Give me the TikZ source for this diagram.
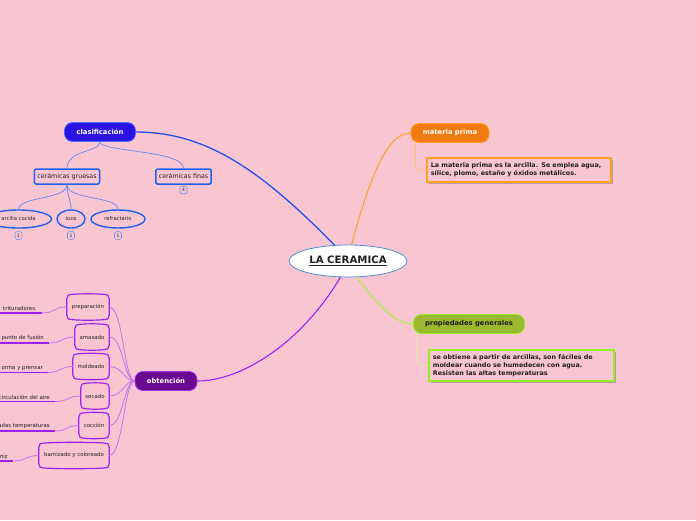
\documentclass[tikz,border=0pt]{standalone}
\usepackage{fontspec}
\setmainfont{DejaVu Sans}
\usetikzlibrary{shapes.geometric,calc}
\definecolor{bg}{HTML}{F9C5D1}
\definecolor{rootb}{HTML}{4A8FD0}
\definecolor{clasf}{HTML}{2A12E0}
\definecolor{clasb}{HTML}{4A6AF8}
\definecolor{blueline}{HTML}{2050F0}
\definecolor{subb}{HTML}{2060F0}
\definecolor{thinblue}{HTML}{7090F0}
\definecolor{orf}{HTML}{F07A10}
\definecolor{orb}{HTML}{FFA020}
\definecolor{orline}{HTML}{FFA030}
\definecolor{orthin}{HTML}{FFC070}
\definecolor{grf}{HTML}{9CB82E}
\definecolor{grb}{HTML}{90F020}
\definecolor{grline}{HTML}{A8F040}
\definecolor{grthin}{HTML}{D8F0A0}
\definecolor{puf}{HTML}{6A0A8E}
\definecolor{pub}{HTML}{A030E8}
\definecolor{puline}{HTML}{A020F0}
\definecolor{puthin}{HTML}{C470F0}
\definecolor{txt}{HTML}{202020}
\definecolor{shadowc}{HTML}{B89AA4}
\tikzset{
  maintopic/.style={rounded corners=8pt, minimum height=19pt, inner sep=0pt, line width=0.8pt, font=\fontsize{6.8}{8}\selectfont\bfseries, text=white},
  subbox/.style={draw=subb, line width=1.5pt, rounded corners=1.5pt, fill=bg, minimum height=15pt, inner xsep=3pt, inner ysep=0pt, font=\fontsize{6.3}{7.5}\selectfont, text=txt},
  leafell/.style={ellipse, draw=subb, line width=1.4pt, fill=bg, minimum height=18pt, inner sep=0pt, font=\fontsize{5.2}{6}\selectfont, text=txt},
  badge/.style={draw=thinblue, line width=0.6pt, rounded corners=1.5pt, minimum width=7pt, minimum height=7.5pt, inner sep=0pt, font=\fontsize{4.5}{5}\selectfont, text=txt},
  thinb/.style={draw=thinblue, line width=0.8pt},
  notebox/.style={line width=1.8pt, fill=bg, inner xsep=4pt, inner ysep=3pt, align=left, anchor=north west, font=\fontsize{6.4}{8}\selectfont\bfseries, text=txt},
  tapebox/.style={minimum height=20pt, inner sep=0pt, font=\fontsize{5.4}{6.5}\selectfont, text=txt},
  tapeline/.style={draw=puline, line width=1.2pt, fill=bg},
  leaftxt/.style={anchor=south east, inner xsep=5pt, inner ysep=2pt, font=\fontsize{5.4}{6.5}\selectfont, text=txt},
  ulpu/.style={draw=puline, line width=1.4pt},
  puconn/.style={draw=puthin, line width=0.8pt},
}
\newcommand\tapeshape[1]{%
  \draw[tapeline, rounded corners=2pt] (#1.north west) .. controls ($(#1.north west)+(3,-3.5)$) and ($(#1.north east)+(-3,-3.5)$) .. (#1.north east) -- (#1.south east) .. controls ($(#1.south east)+(-3,3.5)$) and ($(#1.south west)+(3,3.5)$) .. (#1.south west) -- cycle;}
\begin{document}
\begin{tikzpicture}[x=1pt,y=-1pt]
\fill[bg] (0,0) rectangle (696,520);
\useasboundingbox (0,0) rectangle (696,520);

% root
\node[ellipse, draw=rootb, fill=white, line width=0.8pt, minimum width=118pt, minimum height=32pt, inner sep=0pt, font=\fontsize{10.2}{12}\selectfont\bfseries, text=txt] (root) at (348,261) {\underline{LA CERAMICA}};

% main topics
\node[maintopic, fill=clasf, draw=clasb, minimum width=71pt] (clas) at (100,132) {clasificación};
\node[maintopic, fill=orf, draw=orb, minimum width=78pt] (mp) at (450,133) {materia prima};
\node[maintopic, fill=grf, draw=grb, minimum width=111pt, text=txt] (prop) at (469,324) {propiedades generales};
\node[maintopic, fill=puf, draw=pub, minimum width=62pt] (obt) at (166,381) {obtención};

% main connectors
\draw[blueline, line width=1.3pt] (root.130) .. controls (265,175) and (210,132) .. (clas.east);
\draw[orline, line width=1.1pt] (root.78) .. controls (368,185) and (385,133) .. (mp.west);
\draw[grline, line width=1.1pt] (root.-62) .. controls (378,305) and (395,324) .. (prop.west);
\draw[puline, line width=1.1pt] (root.-115) .. controls (300,345) and (240,381) .. (obt.east);

% clasificacion subtree
\node[subbox] (grue) at (67,176.5) {cerámicas gruesas};
\node[subbox] (fin) at (183.5,176.5) {cerámicas finas};
\node[badge] (b4) at (183.5,190) {4};
\draw[thinb] (clas.south) .. controls (100,152) and (67,150) .. (grue.north);
\draw[thinb] (clas.south) .. controls (100,152) and (183,150) .. (fin.north);

\node[leafell, minimum width=66pt] (arc) at (18.5,219) {arcilla cocida};
\node[leafell, minimum width=28pt] (loza) at (71,219) {loza};
\node[leafell, minimum width=54pt] (refr) at (118,219) {refractario};
\node[badge] (b1) at (18.5,235.5) {1};
\node[badge] (b2) at (71,235.5) {1};
\node[badge] (b3) at (118,235.5) {1};
\draw[thinb] (grue.south) .. controls (67,200) and (19,196) .. (arc.north);
\draw[thinb] (grue.south) .. controls (67,195) and (71,200) .. (loza.north);
\draw[thinb] (grue.south) .. controls (67,200) and (118,196) .. (refr.north);

% materia prima note
\fill[shadowc] (428.5,160) rectangle (612.5,183.5);
\node[notebox, draw=orb, text width=176pt, minimum height=24pt] (mpn) at (426,157) {La materia prima es la arcilla. Se emplea agua,\\sílice, plomo, estaño y óxidos metálicos.};
\draw[orthin, line width=0.8pt, rounded corners=5pt] ($(mp.south west)+(4.5,0)$) |- (mpn.west);

% propiedades note
\fill[shadowc] (430.5,352) rectangle (615.5,382.5);
\node[notebox, draw=grb, text width=177pt, minimum height=31pt] (prn) at (428,349) {se obtiene a partir de arcillas, son fáciles de\\moldear cuando se humedecen con agua.\\Resisten las altas temperaturas};
\draw[grthin, line width=0.8pt, rounded corners=5pt] ($(prop.south west)+(4,0)$) |- (prn.west);

% obtencion children
\node[tapebox, minimum width=42pt] (c1) at (88,307) {};
\node[tapebox, minimum width=34pt] (c2) at (92,337) {};
\node[tapebox, minimum width=36pt] (c3) at (91,366.5) {};
\node[tapebox, minimum width=28pt] (c4) at (95,396) {};
\node[tapebox, minimum width=30pt] (c5) at (94,425.5) {};
\node[tapebox, minimum width=70pt] (c6) at (74,455.5) {};
\foreach \n in {c1,c2,c3,c4,c5,c6}{\tapeshape{\n}}
\node[tapebox] at (c1) {preparación};
\node[tapebox] at (c2) {amasado};
\node[tapebox] at (c3) {moldeado};
\node[tapebox] at (c4) {secado};
\node[tapebox] at (c5) {cocción};
\node[tapebox] at (c6) {barnizado y coloreado};

\foreach \n in {c1,c2,c3,c4,c5,c6}{
  \draw[puconn] (obt.west) .. controls (124,381) and ($(\n.east)+(14,0)$) .. (\n.east);
}

% leaf texts
\node[leaftxt] (l1) at (42,313) {trituradores.};
\node[leaftxt] (l2) at (49,343) {punto de fusión};
\node[leaftxt] (l3) at (48,372.5) {orma y prensar};
\node[leaftxt] (l4) at (55,401.5) {circulación del aire};
\node[leaftxt] (l5) at (55,431) {adas temperaturas};
\node[leaftxt] (l6) at (13,461) {niz};
\coordinate (e1) at (0,313);
\coordinate (e2) at (0,343);
\coordinate (e3) at (0,372.5);
\coordinate (e4) at (0,401.5);
\coordinate (e5) at (0,431);
\coordinate (e6) at (0,461);
\foreach \i in {1,...,6}{
  \draw[ulpu] (e\i) -- (l\i.south east);
  \draw[puconn] (l\i.south east) .. controls ($(l\i.south east)+(14,0)$) and ($(c\i.west)+(-14,0)$) .. (c\i.west);
}
\end{tikzpicture}
\end{document}
